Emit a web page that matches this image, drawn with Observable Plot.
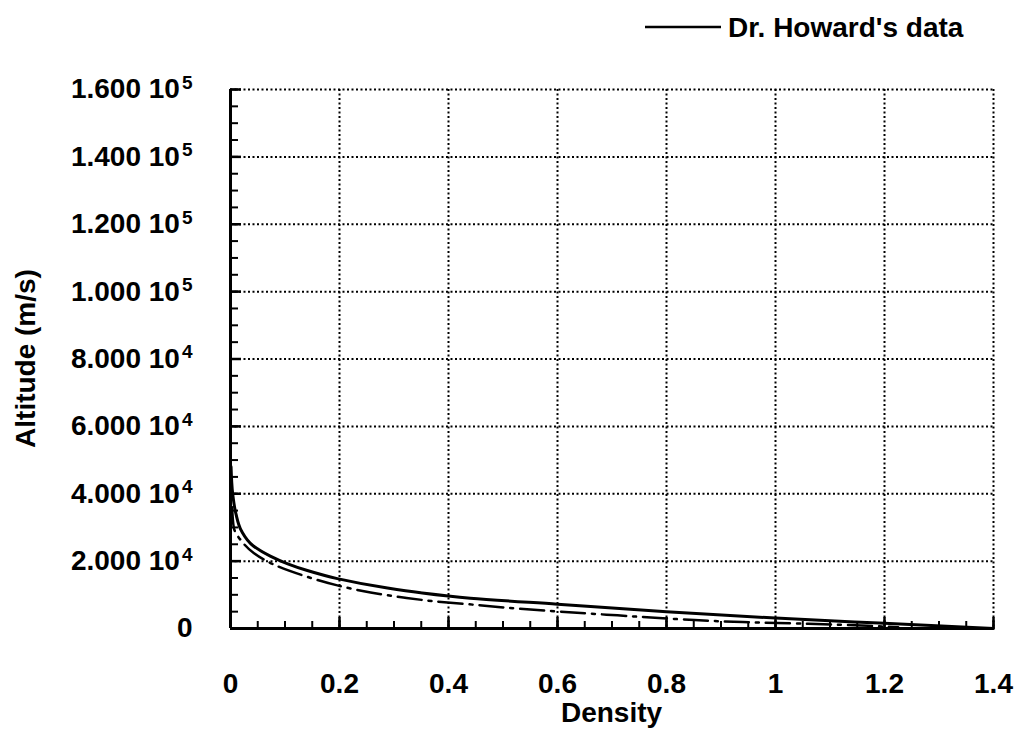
<!DOCTYPE html>
<html>
<head>
<meta charset="utf-8">
<script src="https://cdn.jsdelivr.net/npm/d3@7"></script>
<script src="https://cdn.jsdelivr.net/npm/@observablehq/plot@0.6"></script>
<style>
  html, body { margin: 0; padding: 0; background: #fff; }
  #chart { width: 1015px; height: 729px; }
  svg text { font-family: "Liberation Sans", Arial, Helvetica, sans-serif; font-weight: bold; }
</style>
</head>
<body>
<div id="chart"></div>
<script>
// Dr. Howard's data (solid)
const howardDensity  = [0.001, 0.004, 0.010, 0.020, 0.042, 0.073, 0.105, 0.141, 0.196, 0.288, 0.349, 0.440, 0.600, 0.800, 1.000, 1.190, 1.400];
const howardAltitude = [48000, 40000, 34000, 29000, 24500, 21500, 19200, 17200, 14800, 12000, 10600, 9000, 7200, 5000, 3100, 1600, 0];
// Second model (dash-dot)
const modelDensity  = [0.003, 0.006, 0.020, 0.042, 0.079, 0.134, 0.196, 0.257, 0.317, 0.398, 0.436, 0.527, 0.710, 0.830, 0.940, 1.060, 1.170, 1.225];
const modelAltitude = [36000, 30000, 26000, 22500, 19000, 15700, 12800, 10700, 9200, 7700, 7200, 5900, 3900, 2700, 1900, 1400, 800, 400];

const xTicks = [0, 0.2, 0.4, 0.6, 0.8, 1, 1.2, 1.4];
const yTicks = [0, 20000, 40000, 60000, 80000, 100000, 120000, 140000, 160000];
const xMinor = d3.range(0, 1.4001, 0.05);
const yMinor = d3.range(0, 160001, 5000);
const legendLabel = "Dr. Howard's data";
const xTitle = "Density";
const yTitle = "Altitude (m/s)";

const howard = howardDensity.map((d, i) => ({x: d, y: howardAltitude[i]}));
const model = modelDensity.map((d, i) => ({x: d, y: modelAltitude[i]}));

const fmtY = v => {
  if (v === 0) return "0";
  const e = Math.floor(Math.log10(v));
  return (v / Math.pow(10, e)).toFixed(3) + " 10|" + e;
};
const fmtX = v => String(+v.toFixed(2));

const W = 1015, H = 729, ML = 230, MR = 22, MT = 89, MB = 101;
const frameH = H - MT - MB, frameW = W - ML - MR;
const FS = 28;

const chart = Plot.plot({
  width: W, height: H,
  marginLeft: ML, marginRight: MR, marginTop: MT, marginBottom: MB,
  style: {fontFamily: "Liberation Sans, Arial, sans-serif", fontSize: FS + "px", color: "#000", background: "#fff"},
  x: {domain: [0, 1.4]},
  y: {domain: [0, 160000]},
  marks: [
    Plot.gridX(xTicks.slice(1), {stroke: "#000", strokeOpacity: 1, strokeWidth: 2, strokeDasharray: "2,2.5"}),
    Plot.gridY(yTicks.slice(1), {stroke: "#000", strokeOpacity: 1, strokeWidth: 2, strokeDasharray: "2,2.5"}),
    Plot.tickX(xMinor, {x: d => d, stroke: "#000", strokeWidth: 2, insetTop: frameH - 7}),
    Plot.tickX(xTicks, {x: d => d, stroke: "#000", strokeWidth: 2.5, insetTop: frameH - 11}),
    Plot.tickY(yMinor, {y: d => d, stroke: "#000", strokeWidth: 2, insetRight: frameW - 8}),
    Plot.tickY(yTicks, {y: d => d, stroke: "#000", strokeWidth: 2.5, insetRight: frameW - 11}),
    Plot.ruleX([0], {stroke: "#000", strokeWidth: 3}),
    Plot.ruleY([0], {stroke: "#000", strokeWidth: 3}),
    Plot.line(model, {x: "x", y: "y", stroke: "#000", strokeWidth: 2.5, strokeDasharray: "24,7,3,7", curve: "monotone-y"}),
    Plot.line(howard, {x: "x", y: "y", stroke: "#000", strokeWidth: 3, curve: "monotone-y"}),
    Plot.axisX(xTicks, {tickSize: 0, tickPadding: 45, label: null, fontSize: FS, fill: "#000", tickFormat: fmtX}),
    Plot.axisY(yTicks, {tickSize: 0, tickPadding: 38, label: null, fontSize: FS, fill: "#000", tickFormat: fmtY})
  ]
});

const svg = d3.select(chart);
// superscript exponents on y tick labels
svg.selectAll("g[aria-label='y-axis tick label'] text").each(function() {
  const t = d3.select(this);
  const s = t.text();
  if (s.indexOf("|") < 0) return;
  const [main, ex] = s.split("|");
  t.text(null);
  t.append("tspan").text(main);
  t.append("tspan").attr("dy", "-0.5em").attr("dx", "2").attr("font-size", 19).text(ex);
});

// axis titles
svg.append("text").attr("x", ML + frameW / 2).attr("y", 722).attr("text-anchor", "middle")
  .attr("font-size", FS).attr("fill", "#000").text(xTitle);
svg.append("text").attr("transform", `translate(35,${MT + frameH / 2}) rotate(-90)`).attr("text-anchor", "middle")
  .attr("font-size", FS).attr("fill", "#000").text(yTitle);

// legend
const lg = svg.append("g");
lg.append("line").attr("x1", 645).attr("x2", 721).attr("y1", 27).attr("y2", 27).attr("stroke", "#000").attr("stroke-width", 2.5);
lg.append("text").attr("x", 728).attr("y", 37).attr("text-anchor", "start").attr("font-size", FS).attr("fill", "#000").text(legendLabel);

document.getElementById("chart").appendChild(chart);
</script>
</body>
</html>
